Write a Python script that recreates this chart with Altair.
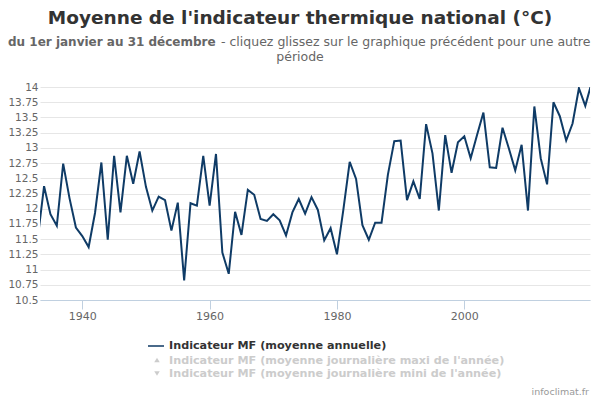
import altair as alt
import pandas as pd

years = list(range(1933, 2021))
values = [
    11.51, 12.37, 11.91, 11.72, 12.74, 12.17, 11.69, 11.55, 11.37, 11.93,
    12.76, 11.49, 12.87, 11.94, 12.87, 12.41, 12.94, 12.36, 11.97, 12.20,
    12.14, 11.64, 12.10, 10.82, 12.09, 12.05, 12.87, 12.05, 12.90, 11.28,
    10.93, 11.95, 11.57, 12.31, 12.23, 11.83, 11.80, 11.91, 11.81, 11.56,
    11.94, 12.16, 11.92, 12.19, 11.98, 11.48, 11.68, 11.25, 11.98, 12.77,
    12.49, 11.73, 11.49, 11.77, 11.77, 12.56, 13.11, 13.12, 12.14, 12.45,
    12.16, 13.39, 12.91, 11.97, 13.21, 12.59, 13.09, 13.19, 12.83, 13.21,
    13.58, 12.68, 12.67, 13.33, 12.99, 12.63, 13.05, 11.97, 13.68, 12.83,
    12.40, 13.75, 13.52, 13.12, 13.40, 13.98, 13.69, 14.07,
]
x_ticks = [1940, 1960, 1980, 2000]
y_ticks = [10.5, 10.75, 11, 11.25, 11.5, 11.75, 12, 12.25, 12.5, 12.75,
           13, 13.25, 13.5, 13.75, 14]

title = "Moyenne de l'indicateur thermique national (°C)"
sub_bold = "du 1er janvier au 31 décembre"
sub_rest = "- cliquez glissez sur le graphique précédent pour une autre"
sub_line2 = "période"
legend_labels = [
    "Indicateur MF (moyenne annuelle)",
    "Indicateur MF (moyenne journalière maxi de l'année)",
    "Indicateur MF (moyenne journalière mini de l'année)",
]
credit = "infoclimat.fr"

FONT = "DejaVu Sans"
LINE = "#0f3b66"

df = pd.DataFrame({"year": years, "value": values})

line = alt.Chart(df).mark_line(color=LINE, strokeWidth=2, clip=True).encode(
    x=alt.X("year:Q",
            scale=alt.Scale(domain=[1933.36, 2019.74], nice=False, zero=False),
            axis=alt.Axis(values=x_ticks, format="d", title=None, grid=False,
                          domainColor="#C0D0E0", tickColor="#C0D0E0",
                          tickSize=9, labelPadding=1, labelFontSize=11,
                          labelColor="#666666", labelFont=FONT)),
    y=alt.Y("value:Q",
            scale=alt.Scale(domain=[10.5, 14], nice=False, zero=False),
            axis=alt.Axis(values=y_ticks, format=".2~f", title=None,
                          domain=False, ticks=False, labelPadding=2,
                          labelFontSize=10.5, labelColor="#666666",
                          labelFont=FONT, grid=True, gridColor="#e6e6e6")),
)

one = pd.DataFrame({"a": [0]})


def txt(text, x, y, size, color, weight="normal", align="left"):
    return alt.Chart(one).mark_text(
        text=text, font=FONT, fontSize=size, color=color, fontWeight=weight,
        align=align, baseline="middle"
    ).encode(x=alt.value(x), y=alt.value(y))


layers = [
    line,
    txt(title, 260, -69, 18.5, "#333333", "bold", "center"),
    txt(sub_bold, -32, -45, 12, "#666666", "bold"),
    txt(sub_rest, 181, -45, 12.5, "#666666"),
    txt(sub_line2, 260, -30, 12.5, "#666666", "normal", "center"),
    alt.Chart(one).mark_rule(color="#4a6a8a", strokeWidth=2).encode(
        x=alt.value(108), x2=alt.value(124), y=alt.value(259)),
    txt(legend_labels[0], 129, 259, 11.2, "#333333", "bold"),
    alt.Chart(one).mark_point(shape="triangle-up", filled=True, color="#cccccc",
                              size=30, opacity=1).encode(
        x=alt.value(117), y=alt.value(273)),
    txt(legend_labels[1], 129, 273.5, 11.2, "#cccccc", "bold"),
    alt.Chart(one).mark_point(shape="triangle-down", filled=True, color="#cccccc",
                              size=30, opacity=1).encode(
        x=alt.value(117), y=alt.value(286.5)),
    txt(legend_labels[2], 129, 286.5, 11.2, "#cccccc", "bold"),
    txt(credit, 549, 305, 9.5, "#999999", "normal", "right"),
]

chart = alt.layer(*layers).properties(
    width=550, height=213,
    autosize=alt.AutoSizeParams(type="none"),
    padding={"left": 32, "top": 79, "right": 2, "bottom": 100},
).configure_view(stroke=None)

chart.save("out.html", embed_options={"renderer": "svg", "actions": False})
